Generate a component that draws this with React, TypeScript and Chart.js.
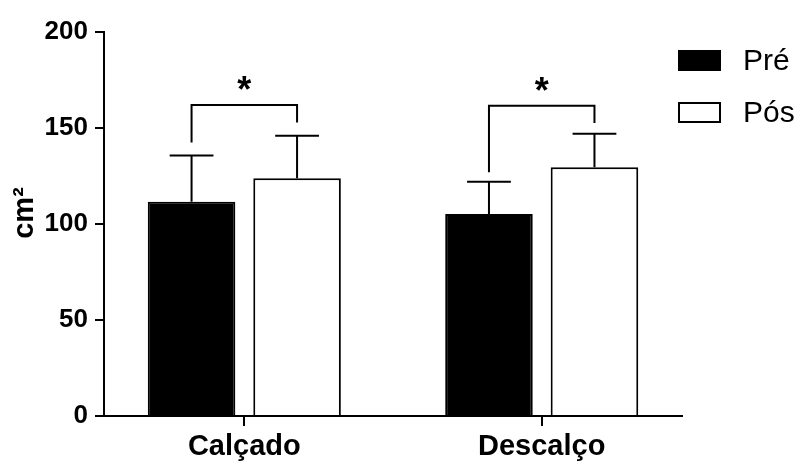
import React, { useEffect, useRef } from 'react';
import { Chart, registerables } from 'chart.js';

Chart.register(...registerables);

// ---- data ----
const categories = ['Calçado', 'Descalço'];
const categoryX = [1, 2];
const seriesLabels = ['Pré', 'Pós'];
const preMeans = [111.6, 105.2];
const posMeans = [123.8, 129.5];
const preSD = [24.1, 16.8];
const posSD = [22.2, 17.5];
const bracketTop = [162, 161.6];
const bracketLeftEnd = [142.5, 127];
const bracketRightEnd = [152.9, 152.6];
const sigMarks = ['*', '*'];
const yMin = 0;
const yMax = 200;
const yStep = 50;
const yTitle = 'cm²';

const FONT = '"Liberation Sans", Arial, Helvetica, sans-serif';

const annotPlugin = {
  id: 'annot',
  afterDatasetsDraw(chart: any) {
    const ctx = chart.ctx;
    const ys = chart.scales.y;
    const means = [preMeans, posMeans];
    const sds = [preSD, posSD];
    ctx.save();
    ctx.strokeStyle = '#000';
    ctx.lineWidth = 2;
    ctx.lineCap = 'butt';
    ctx.lineJoin = 'miter';
    // error bars
    [0, 1].forEach((d) => {
      const meta = chart.getDatasetMeta(d);
      meta.data.forEach((bar: any, j: number) => {
        const x = bar.x;
        const y0 = ys.getPixelForValue(means[d][j]);
        const y1 = ys.getPixelForValue(means[d][j] + sds[d][j]);
        const hw = bar.width / 4;
        ctx.beginPath();
        ctx.moveTo(x, y0);
        ctx.lineTo(x, y1);
        ctx.moveTo(x - hw, y1);
        ctx.lineTo(x + hw, y1);
        ctx.stroke();
      });
    });
    // significance brackets
    const m0 = chart.getDatasetMeta(0);
    const m1 = chart.getDatasetMeta(1);
    categories.forEach((_, j) => {
      const xl = m0.data[j].x;
      const xr = m1.data[j].x;
      const yt = ys.getPixelForValue(bracketTop[j]);
      ctx.beginPath();
      ctx.moveTo(xl, ys.getPixelForValue(bracketLeftEnd[j]));
      ctx.lineTo(xl, yt);
      ctx.lineTo(xr, yt);
      ctx.lineTo(xr, ys.getPixelForValue(bracketRightEnd[j]));
      ctx.stroke();
      ctx.fillStyle = '#000';
      ctx.font = `bold 36px ${FONT}`;
      ctx.textAlign = 'center';
      ctx.textBaseline = 'alphabetic';
      const mt = ctx.measureText(sigMarks[j]);
      const center = yt - 22;
      const base = center + (mt.actualBoundingBoxAscent - mt.actualBoundingBoxDescent) / 2;
      ctx.fillText(sigMarks[j], (xl + xr) / 2, base);
    });
    ctx.restore();
  },
  afterDraw(chart: any) {
    const ctx = chart.ctx;
    ctx.save();
    // y title
    ctx.translate(33, 213);
    ctx.rotate(-Math.PI / 2);
    ctx.fillStyle = '#000';
    ctx.font = `bold 29px ${FONT}`;
    ctx.textAlign = 'center';
    ctx.textBaseline = 'alphabetic';
    ctx.fillText(yTitle, 0, 0);
    ctx.restore();
    // legend
    ctx.save();
    const fills = ['#000', '#fff'];
    const rows = [50, 102];
    seriesLabels.forEach((lab, i) => {
      const top = rows[i];
      ctx.fillStyle = fills[i];
      ctx.fillRect(678, top, 43, 21);
      ctx.strokeStyle = '#000';
      ctx.lineWidth = 2;
      ctx.strokeRect(679, top + 1, 41, 19);
      ctx.fillStyle = '#000';
      ctx.font = `30px ${FONT}`;
      ctx.textAlign = 'left';
      ctx.textBaseline = 'alphabetic';
      ctx.fillText(lab, 743, top + 20);
    });
    ctx.restore();
  },
};

export default function App() {
  const canvasRef = useRef<HTMLCanvasElement | null>(null);

  useEffect(() => {
    if (!canvasRef.current) return;
    const chart = new Chart(canvasRef.current, {
      type: 'bar',
      data: {
        datasets: [
          {
            label: seriesLabels[0],
            data: categoryX.map((x, i) => ({ x, y: preMeans[i] })),
            backgroundColor: '#000',
            borderColor: '#000',
            borderWidth: 2,
            barPercentage: 0.83,
            categoryPercentage: 0.7095,
          },
          {
            label: seriesLabels[1],
            data: categoryX.map((x, i) => ({ x, y: posMeans[i] })),
            backgroundColor: '#fff',
            borderColor: '#000',
            borderWidth: 2,
            barPercentage: 0.83,
            categoryPercentage: 0.7095,
          },
        ],
      },
      options: {
        animation: false,
        responsive: false,
        maintainAspectRatio: false,
        layout: { padding: { top: 32, right: 116, bottom: 0, left: 0 } },
        plugins: {
          legend: { display: false },
          tooltip: { enabled: false },
        },
        scales: {
          x: {
            type: 'linear',
            offset: false,
            min: 0.5282,
            max: 2.4717,
            afterBuildTicks: (axis: any) => {
              axis.ticks = categoryX.map((v) => ({ value: v }));
            },
            afterFit: (scale: any) => {
              scale.height = 46;
            },
            ticks: {
              callback: (value: any) => categories[Math.round(value) - 1],
              font: { family: FONT, size: 29, weight: 'bold' },
              color: '#000',
              padding: 4,
              maxRotation: 0,
              autoSkip: false,
            },
            grid: {
              offset: false,
              drawOnChartArea: false,
              drawTicks: true,
              tickLength: 10,
              color: '#000',
              lineWidth: 2,
            },
            border: { display: true, color: '#000', width: 2 },
          },
          y: {
            min: yMin,
            max: yMax,
            afterFit: (scale: any) => {
              scale.width = 104;
            },
            ticks: {
              stepSize: yStep,
              font: { family: FONT, size: 26, weight: 'bold' },
              color: '#000',
              padding: 7,
            },
            grid: {
              drawOnChartArea: false,
              drawTicks: true,
              tickLength: 9,
              color: '#000',
              lineWidth: 2,
            },
            border: { display: true, color: '#000', width: 2 },
          },
        },
      },
      plugins: [annotPlugin],
    } as any);
    return () => chart.destroy();
  }, []);

  return (
    <div style={{ position: 'absolute', left: 0, top: 0, width: 798, height: 462, background: '#fff' }}>
      <canvas ref={canvasRef} width={798} height={462} style={{ display: 'block', width: 798, height: 462 }} />
    </div>
  );
}
